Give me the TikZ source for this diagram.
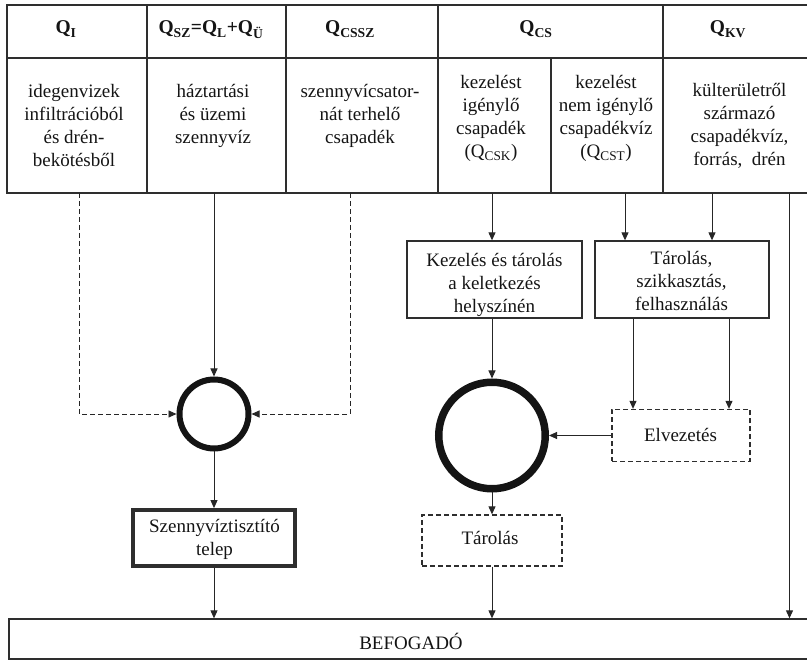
\documentclass[tikz,border=0pt]{standalone}
\usepackage{fontspec}
\setmainfont{Liberation Serif}
\usetikzlibrary{arrows.meta,calc}
\newcommand{\qsub}[1]{\textsubscript{#1}}
\begin{document}
\begin{tikzpicture}[x=1pt,y=-1pt,
  font=\fontsize{19}{23}\selectfont,
  ln/.style={line width=1.3pt, draw=black!82},
  cell/.style={ln, rectangle, anchor=north west, inner sep=0pt, outer sep=0pt},
  txt/.style={align=center, inner sep=0pt, anchor=north, text=black!92},
  hd/.style={inner sep=0pt, anchor=base, text=black!92, font=\fontsize{19.5}{23}\selectfont\bfseries},
  arr/.style={line width=1pt, draw=black!85, -{Triangle[length=8pt,width=7pt]}},
  dsh/.style={arr, line width=0.95pt, dash pattern=on 5pt off 3pt},
  box/.style={draw=black!82, line width=1.3pt, rectangle, inner sep=0pt},
  dbox/.style={box, dash pattern=on 5pt off 3pt},
  ring/.style={circle, draw=black!92, inner sep=0pt},
]
\useasboundingbox (0,0) rectangle (807,660);
% table cells
\node[cell, minimum width=140pt, minimum height=53pt] (h1) at (7,5) {};
\node[cell, minimum width=139pt, minimum height=53pt] (h2) at (147,5) {};
\node[cell, minimum width=152pt, minimum height=53pt] (h3) at (286,5) {};
\node[cell, minimum width=225pt, minimum height=53pt] (h4) at (438,5) {};
\node[cell, minimum width=145pt, minimum height=53pt] (h5) at (663,5) {};
\node[cell, minimum width=140pt, minimum height=135pt] (b1) at (7,58) {};
\node[cell, minimum width=139pt, minimum height=135pt] (b2) at (147,58) {};
\node[cell, minimum width=152pt, minimum height=135pt] (b3) at (286,58) {};
\node[cell, minimum width=113pt, minimum height=135pt] (b4a) at (438,58) {};
\node[cell, minimum width=112pt, minimum height=135pt] (b4b) at (551,58) {};
\node[cell, minimum width=145pt, minimum height=135pt] (b5) at (663,58) {};
% header texts
\node[hd] (t1) at (66,34) {Q\qsub{I}};
\node[hd] (t2) at (211,34) {Q\qsub{SZ}=Q\qsub{L}+Q\qsub{Ü}};
\node[hd] (t3) at (350,34) {Q\qsub{CSSZ}};
\node[hd] (t4) at (536,34) {Q\qsub{CS}};
\node[hd] (t5) at (728,34) {Q\qsub{KV}};
% body texts
\node[txt] (x1) at (74,81.5) {\strut idegenvizek\\infiltrációból\\és drén-\\bekötésből};
\node[txt] (x2) at (213,81.5) {\strut háztartási\\és üzemi\\szennyvíz};
\node[txt] (x3) at (360,81.5) {\strut szennyvícsator-\\nát terhelő\\csapadék};
\node[txt] (x4) at (491,72) {\strut kezelést\\igénylő\\csapadék\\(Q\qsub{CSK})};
\node[txt] (x5) at (606,72) {\strut kezelést\\nem igénylő\\csapadékvíz\\(Q\qsub{CST})};
\node[txt] (x6) at (739.5,80.5) {\strut külterületről\\származó\\csapadékvíz,\\forrás,\ \ drén};
% rings
\node[ring, line width=6pt, minimum size=69pt] (c1) at (214,414) {};
\node[ring, line width=7.5pt, minimum size=106.5pt] (c2) at (492,435.5) {};
% boxes
\node[box, minimum width=175pt, minimum height=77pt] (kez) at (494.5,279.5) {};
\node[txt] (kezt) at (494.5,250.5) {\strut Kezelés és tárolás\\a keletkezés\\helyszínén};
\node[box, minimum width=174pt, minimum height=77pt] (tst) at (682,279.5) {};
\node[txt] (tstt) at (681.5,248.5) {\strut Tárolás,\\szikkasztás,\\felhasználás};
\node[dbox, minimum width=138pt, minimum height=52pt] (elv) at (681,435.5) {};
\node[txt, anchor=base] (elvt) at (680.5,441.5) {Elvezetés};
\node[box, line width=3.8pt, minimum width=162pt, minimum height=56pt] (szt) at (214,538) {};
\node[txt] (sztt) at (214.5,516) {\strut Szennyvíztisztító\\telep};
\node[dbox, minimum width=140pt, minimum height=51pt] (tar) at (492,540.5) {};
\node[txt, anchor=base] (tart) at (490,544) {Tárolás};
\node[box, minimum width=801pt, minimum height=40pt] (bef) at (409.5,639) {};
\node[txt, anchor=base] (beft) at (411,649) {BEFOGADÓ};
% connectors
\draw[dsh] ([xshift=2pt]b1.south) |- (c1.west);
\draw[arr] (c1.north |- b2.south) -- (c1.north);
\draw[dsh] ([xshift=-12pt]b3.south) |- (c1.east);
\draw[arr] (c1.south) -- (szt.north);
\draw[arr] (szt.south) -- (szt.south |- bef.north);
\draw[arr] (c2.north |- b4a.south) -- (c2.north |- kez.north);
\draw[arr] (c2.north |- kez.south) -- (c2.north);
\draw[arr] (c2.south) -- (tar.north);
\draw[arr] (tar.south) -- (tar.south |- bef.north);
\draw[arr] ([xshift=-57pt]tst.north |- b4b.south) -- ([xshift=-57pt]tst.north);
\draw[arr] ([xshift=30pt]tst.north |- b5.south) -- ([xshift=30pt]tst.north);
\draw[arr] ([xshift=-49pt]tst.south) -- ([xshift=-49pt]tst.south |- elv.north);
\draw[arr] ([xshift=47pt]tst.south) -- ([xshift=47pt]tst.south |- elv.north);
\draw[arr] (elv.west) -- (c2.east);
\draw[arr] ([xshift=54pt]b5.south) -- ([xshift=54pt]b5.south |- bef.north);
\end{tikzpicture}
\end{document}
